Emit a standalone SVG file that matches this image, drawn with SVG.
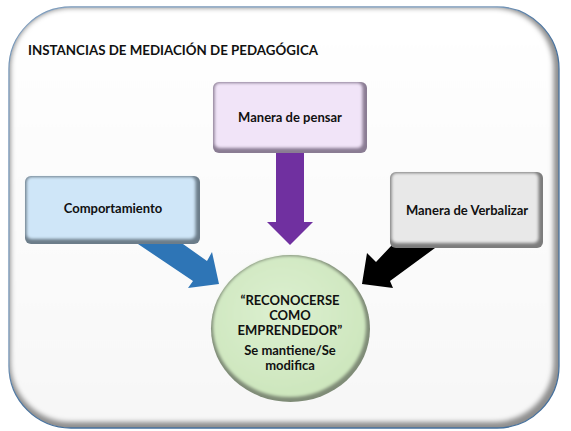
<svg xmlns="http://www.w3.org/2000/svg" width="571" height="431" viewBox="0 0 571 431">
<style>
.t{font-family:Lato,"Open Sans","Liberation Sans",sans-serif;font-weight:bold;font-size:13px;fill:#111;text-anchor:middle}
.title{font-family:Lato,"Open Sans","Liberation Sans",sans-serif;font-weight:bold;font-size:14px;fill:#111}
</style>
<defs>
<filter id="soft" x="-10%" y="-10%" width="120%" height="120%"><feGaussianBlur stdDeviation="1.6"/></filter>
<filter id="softBig" x="-5%" y="-5%" width="110%" height="110%"><feGaussianBlur stdDeviation="2.5"/></filter>
<linearGradient id="frameFill" x1="0" y1="0" x2="0" y2="1"><stop offset="0" stop-color="#ffffff"/><stop offset="1" stop-color="#f7f7f7"/></linearGradient>
<radialGradient id="circFill" cx="0.45" cy="0.4" r="0.6"><stop offset="0" stop-color="#dcefd0"/><stop offset="1" stop-color="#cde6bd"/></radialGradient>
</defs>
<g id="frame">
<rect x="9" y="7" width="550" height="421" rx="62" fill="#8e8e8e" stroke="#45709d" stroke-width="1.3"/>
<rect x="10.5" y="8" width="543" height="414" rx="60" fill="url(#frameFill)" filter="url(#softBig)"/>
</g>
<text id="title" class="title" x="28" y="55" textLength="290" lengthAdjust="spacingAndGlyphs">INSTANCIAS DE MEDIACIÓN DE PEDAGÓGICA</text>
<g id="connectors">
<polygon points="138,244 183,244 207,261 212,252 219,284 188,288 193,281" fill="#2e75b6"/>
<polygon points="276,150 304,150 304,222 313,222 290,245 267,222 276,222" fill="#7030a0"/>
<polygon points="392,245 435,248 390,281 393,288 362,284 367,253 376,262" fill="#000000"/>
</g>
<g id="node-pensar">
<rect x="213" y="82" width="154" height="71" rx="6" fill="#8a7c93"/>
<rect x="214.5" y="83" width="148" height="65" rx="5" fill="#f1e4f8" filter="url(#soft)"/>
<text class="t" x="290" y="122">Manera de pensar</text>
</g>
<g id="node-comportamiento">
<rect x="25" y="176" width="175" height="68" rx="6" fill="#6c7d8a"/>
<rect x="26.5" y="177" width="169" height="62" rx="5" fill="#cfe6f8" filter="url(#soft)"/>
<text class="t" x="113" y="213">Comportamiento</text>
</g>
<g id="node-verbalizar">
<rect x="390" y="172" width="153" height="76" rx="6" fill="#7c7c7c"/>
<rect x="391.5" y="173" width="147" height="70" rx="5" fill="#e8e8e8" filter="url(#soft)"/>
<text class="t" x="467" y="215">Manera de Verbalizar</text>
</g>
<g id="node-center">
<ellipse cx="290.5" cy="328.5" rx="79.5" ry="73.5" fill="#7f8c77"/>
<ellipse cx="289.5" cy="326.5" rx="76.5" ry="70.5" fill="url(#circFill)" filter="url(#soft)"/>
<text class="t" x="290" y="305">“RECONOCERSE</text>
<text class="t" x="290" y="320">COMO</text>
<text class="t" x="290" y="335">EMPRENDEDOR”</text>
<text class="t" x="290" y="355">Se mantiene/Se</text>
<text class="t" x="290" y="370">modifica</text>
</g>
</svg>
